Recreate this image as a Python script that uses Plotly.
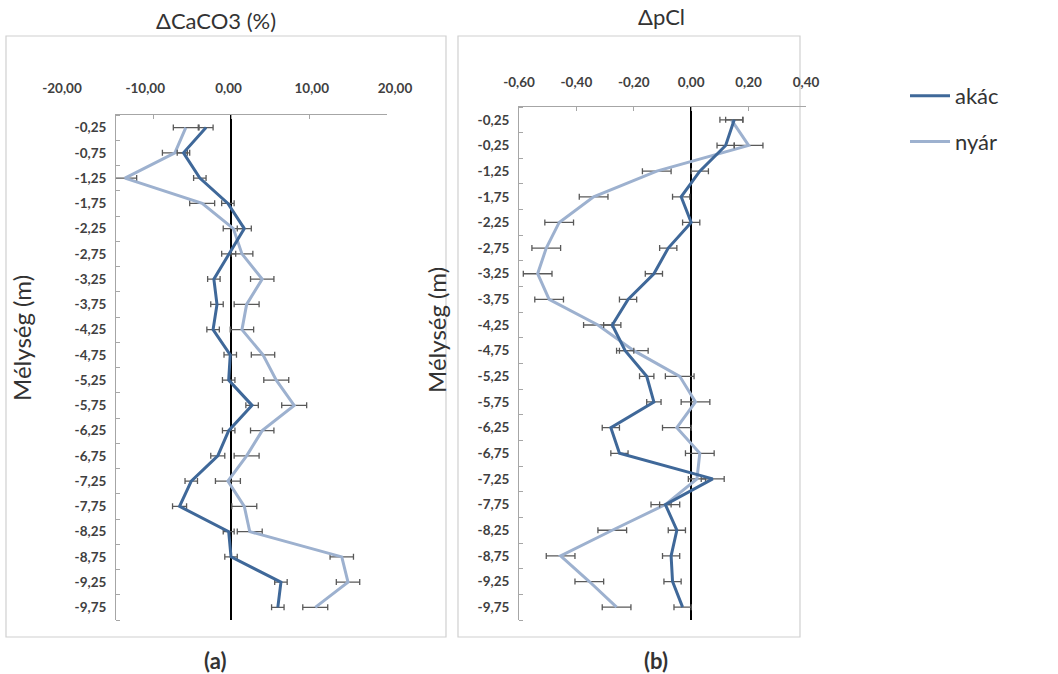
import plotly.graph_objects as go

# ---------------- data ----------------
depth = [-0.25, -0.75, -1.25, -1.75, -2.25, -2.75, -3.25, -3.75, -4.25, -4.75,
         -5.25, -5.75, -6.25, -6.75, -7.25, -7.75, -8.25, -8.75, -9.25, -9.75]
depth_labels_a = ["-0,25", "-0,75", "-1,25", "-1,75", "-2,25", "-2,75", "-3,25", "-3,75",
                  "-4,25", "-4,75", "-5,25", "-5,75", "-6,25", "-6,75", "-7,25", "-7,75",
                  "-8,25", "-8,75", "-9,25", "-9,75"]
depth_labels_b = ["-0,25", "-0,25", "-1,25", "-1,75", "-2,25", "-2,75", "-3,25", "-3,75",
                  "-4,25", "-4,75", "-5,25", "-5,75", "-6,25", "-6,75", "-7,25", "-7,75",
                  "-8,25", "-8,75", "-9,25", "-9,75"]

# (a) delta CaCO3 (%)
caco3_akac = [-3.2, -6.1, -4.0, -0.4, 1.7, -0.3, -2.2, -1.8, -2.3, -0.1,
              -0.3, 2.7, -0.3, -1.7, -5.1, -6.6, -0.3, 0.0, 6.4, 6.0]
caco3_akac_err = [0.9, 0.8, 0.8, 0.8, 0.9, 0.9, 0.8, 0.8, 0.8, 0.8,
                  0.8, 0.8, 0.8, 0.9, 0.8, 0.9, 0.7, 0.8, 0.8, 0.8]
caco3_nyar = [-5.8, -7.2, -13.6, -3.7, 0.3, 1.4, 4.0, 2.0, 1.4, 4.1,
              5.8, 8.1, 4.0, 2.0, -0.4, 1.7, 2.4, 14.2, 15.0, 10.8]
caco3_nyar_err = [1.6, 1.6, 1.5, 1.6, 1.3, 1.4, 1.5, 1.6, 1.5, 1.5,
                  1.6, 1.6, 1.5, 1.6, 1.6, 1.6, 1.6, 1.5, 1.5, 1.6]

# (b) delta pCl
pcl_akac = [0.15, 0.12, 0.03, -0.035, 0.0, -0.08, -0.13, -0.22, -0.275, -0.23,
            -0.155, -0.13, -0.28, -0.25, 0.075, -0.09, -0.05, -0.07, -0.065, -0.03]
pcl_akac_err = [0.03, 0.03, 0.03, 0.03, 0.03, 0.03, 0.03, 0.03, 0.03, 0.03,
                0.025, 0.025, 0.03, 0.03, 0.04, 0.02, 0.03, 0.03, 0.03, 0.03]
pcl_nyar = [0.14, 0.20, -0.12, -0.34, -0.46, -0.505, -0.535, -0.495, -0.325, -0.20,
            -0.04, 0.015, -0.05, 0.03, 0.02, -0.09, -0.275, -0.455, -0.355, -0.26]
pcl_nyar_err = [0.04, 0.05, 0.05, 0.05, 0.05, 0.05, 0.05, 0.05, 0.05, 0.05,
                0.05, 0.05, 0.05, 0.05, 0.03, 0.05, 0.05, 0.05, 0.05, 0.05]

xticks_a = [-20, -10, 0, 10, 20]
xticks_a_text = ["-20,00", "-10,00", "0,00", "10,00", "20,00"]
xticks_b = [-0.6, -0.4, -0.2, 0.0, 0.2, 0.4]
xticks_b_text = ["-0,60", "-0,40", "-0,20", "0,00", "0,20", "0,40"]

series_names = ["akác", "nyár"]

# ---------------- styling ----------------
W, H = 1058, 674
def fx(px):
    return px / W
def fy(py):
    return 1 - py / H

C_AKAC = "#3f6899"
C_NYAR = "#9db1cf"
ERR_C = "#595959"
TICK_FONT = dict(family="Lato", size=13.5, color="#404040", weight="bold")

fig = go.Figure()

def add_series(x, err, color, name, xa, ya, show):
    fig.add_trace(go.Scatter(
        x=x, y=depth, mode="lines", name=name, xaxis=xa, yaxis=ya,
        line=dict(color=color, width=3),
        error_x=dict(type="data", array=err, visible=True, color=ERR_C,
                     thickness=1.3, width=3),
        showlegend=show, legendgroup=name,
        legendrank=1 if name == "akác" else 2,
    ))

# nyár drawn below akác
add_series(caco3_nyar, caco3_nyar_err, C_NYAR, series_names[1], "x", "y", True)
add_series(caco3_akac, caco3_akac_err, C_AKAC, series_names[0], "x", "y", True)
add_series(pcl_nyar, pcl_nyar_err, C_NYAR, series_names[1], "x2", "y2", False)
add_series(pcl_akac, pcl_akac_err, C_AKAC, series_names[0], "x2", "y2", False)
# helper (empty) trace so the label-only axis of panel (a) is drawn
fig.add_trace(go.Scatter(x=[None], y=[None], xaxis="x3", yaxis="y",
                         showlegend=False, hoverinfo="skip"))

AX_LINE = "#a6a6a6"
common_y = dict(range=[-10, 0], showline=True, linecolor=AX_LINE, linewidth=1,
                ticks="", showgrid=False, zeroline=False, tickmode="array",
                tickvals=depth, tickfont=TICK_FONT, ticklabelstandoff=6,
                automargin=False,
                minor=dict(ticks="inside", ticklen=4, tickcolor=AX_LINE,
                           tick0=0, dtick=0.5, showgrid=False))

fig.update_layout(
    width=W, height=H,
    margin=dict(l=0, r=0, t=0, b=0, autoexpand=False),
    paper_bgcolor="white", plot_bgcolor="rgba(0,0,0,0)",
    showlegend=True,
    legend=dict(x=fx(905), y=fy(75), xanchor="left", yanchor="top",
                font=dict(family="Lato", size=22, color="#333333"),
                tracegroupgap=14, itemwidth=40, bgcolor="rgba(0,0,0,0)"),
    xaxis=dict(domain=[fx(116), fx(387)], range=[-14.75, 20], side="top",
               anchor="y", showline=True, linecolor=AX_LINE, linewidth=1,
               ticks="inside", ticklen=4, tickcolor=AX_LINE, tickmode="array",
               tickvals=xticks_a, showticklabels=False, showgrid=False,
               automargin=False,
               zeroline=True, zerolinecolor="black", zerolinewidth=2),
    xaxis3=dict(domain=[fx(62), fx(395)], range=[-20, 20], side="top",
                anchor="free", position=fy(96), showline=False, ticks="",
                tickmode="array", tickvals=xticks_a, ticktext=xticks_a_text,
                tickfont=TICK_FONT, showgrid=False, zeroline=False,
                automargin=False),
    yaxis=dict(domain=[fy(620), fy(115)], anchor="x", ticktext=depth_labels_a,
               **common_y),
    xaxis2=dict(domain=[fx(519), fx(806)], range=[-0.6, 0.4], side="top",
                anchor="y2", showline=True, linecolor=AX_LINE, linewidth=1,
                ticks="inside", ticklen=4, tickcolor=AX_LINE, tickmode="array",
                tickvals=xticks_b, ticktext=xticks_b_text, tickfont=TICK_FONT,
                ticklabelstandoff=14, showgrid=False, automargin=False,
                zeroline=True, zerolinecolor="black", zerolinewidth=2),
    yaxis2=dict(domain=[fy(620), fy(107)], anchor="x2", ticktext=depth_labels_b,
                **common_y),
)

# panel frames
for x0, x1 in [(6, 446), (458, 800)]:
    fig.add_shape(type="rect", xref="paper", yref="paper",
                  x0=fx(x0), x1=fx(x1), y0=fy(637), y1=fy(36),
                  line=dict(color="#d0d0d0", width=1.2), layer="below")

TITLE_FONT = dict(family="Lato", size=22, color="#333333")
ann = [
    dict(text="ΔCaCO3 (%)", x=fx(216), y=fy(20)),
    dict(text="ΔpCl", x=fx(661), y=fy(16)),
    dict(text="Mélység (m)", x=fx(21), y=fy(338), textangle=-90,
         font=dict(family="Lato", size=24, color="#333333")),
    dict(text="Mélység (m)", x=fx(437), y=fy(330), textangle=-90,
         font=dict(family="Lato", size=24, color="#333333")),
    dict(text="<b>(a)</b>", x=fx(215), y=fy(660)),
    dict(text="<b>(b)</b>", x=fx(656), y=fy(660)),
]
for a in ann:
    a.setdefault("font", TITLE_FONT)
    fig.add_annotation(xref="paper", yref="paper", showarrow=False,
                       xanchor="center", yanchor="middle", **a)

fig.write_html("out.html",
               config={"displayModeBar": False},
               post_script="document.body.style.margin='0';")
